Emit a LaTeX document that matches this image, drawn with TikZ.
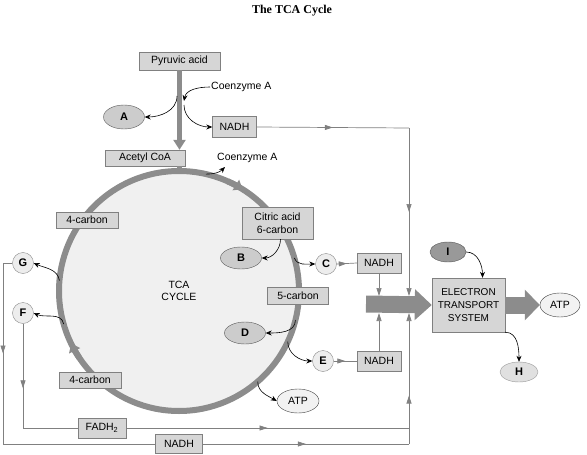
\documentclass[tikz,border=0pt]{standalone}
\usepackage{fontspec}
\setmainfont{Liberation Sans}
\newfontfamily\titlefont{Liberation Serif}
\usetikzlibrary{arrows.meta,decorations.markings,shapes.geometric}

\begin{document}
\begin{tikzpicture}[
  x=1pt, y=-1pt,
  font=\fontsize{10.5}{12.5}\selectfont,
  box/.style={rectangle, draw=black!50, fill=black!16, inner sep=1pt, align=center},
  oval/.style={ellipse, draw=black!65, fill=black!20, inner sep=0pt, font=\fontsize{11}{12}\selectfont\bfseries},
  atpoval/.style={ellipse, draw=black!75, fill=black!5, inner sep=0pt},
  dot/.style={circle, draw=black!45, fill=black!7, inner sep=0pt, minimum size=21pt, font=\fontsize{11}{12}\selectfont\bfseries},
  ring/.style={circle, draw=black!45, line width=6pt, fill=black!6, minimum size=240pt, outer sep=0pt, align=center},
  fat/.style={draw=black!45, line width=5pt},
  ringtip/.style={draw=black!45, line width=6pt, -{Triangle[length=8pt,width=12pt]}},
  flow/.style={draw=black!50, line width=0.7pt},
  flowtip/.style={flow, -{Triangle[length=8pt,width=5pt]}},
  midarr/.style={postaction=decorate, decoration={markings, mark=at position #1 with {\arrow{Triangle[length=8pt,width=5pt]}}}},
  midarr/.default=0.5,
  bent/.style={draw=black, line width=0.6pt, -{Stealth[length=6pt,width=5pt]}},
  bigarrow/.style={draw=black!45, line width=17pt, -{Triangle[length=17pt,width=30pt]}}
]
  \useasboundingbox (0,0) rectangle (587,455);

  % Title
  \node[font={\fontsize{12}{14}\titlefont\bfseries}] (title) at (292,11) {The TCA Cycle};

  % Cycle
  \node[ring] (tca) at (179,291) {TCA\\CYCLE};
  \draw[ringtip] (tca.center) ++(66:120pt) arc[start angle=66, end angle=58, radius=120pt];
  \draw[ringtip] (tca.center) ++(214:120pt) arc[start angle=214, end angle=206, radius=120pt];

  % Boxes
  \node[box, minimum width=81pt, minimum height=18pt] (pyruvic) at (179.5,61) {Pyruvic acid};
  \node[box, minimum width=80pt, minimum height=16pt] (acetyl) at (145,158) {Acetyl CoA};
  \node[box, minimum width=44pt, minimum height=21pt] (nadhA) at (234.5,127) {NADH};
  \node[box, minimum width=62pt, minimum height=16pt] (fourtop) at (87,220) {4-carbon};
  \node[box, minimum width=62pt, minimum height=16pt] (fourbot) at (90,380) {4-carbon};
  \node[box, minimum width=71pt, minimum height=32pt] (citric) at (277.5,223) {Citric acid\\6-carbon};
  \node[box, minimum width=61pt, minimum height=17pt] (five) at (298,296) {5-carbon};
  \node[box, minimum width=44pt, minimum height=20pt] (nadhC) at (379,263) {NADH};
  \node[box, minimum width=44pt, minimum height=20pt] (nadhE) at (379,361) {NADH};
  \node[box, minimum width=48pt, minimum height=20pt] (fadh) at (102,428) {FADH\textsubscript{2}};
  \node[box, minimum width=47pt, minimum height=19pt] (nadhB) at (179,444) {NADH};
  \node[box, minimum width=73pt, minimum height=54pt, font=\fontsize{10}{13}\selectfont] (ets) at (468.5,305) {ELECTRON\\TRANSPORT\\SYSTEM};

  % Plain labels
  \node[anchor=west, inner sep=1pt] (coenzA) at (210,87) {Coenzyme A};
  \node[anchor=west, inner sep=1pt] (coenzB) at (216,158) {Coenzyme A};

  % Letters and products
  \node[oval, minimum width=41pt, minimum height=24pt] (A) at (124,117) {A};
  \node[oval, minimum width=41pt, minimum height=22pt] (B) at (241,258) {B};
  \node[oval, minimum width=41pt, minimum height=22pt] (D) at (245,333) {D};
  \node[dot] (C) at (326,264) {C};
  \node[dot] (E) at (323,361) {E};
  \node[dot] (G) at (23,263) {G};
  \node[dot] (F) at (23,313) {F};
  \node[oval, fill=black!40, minimum width=36pt, minimum height=20pt] (I) at (448,252) {I};
  \node[oval, fill=black!12, draw=black!40, minimum width=38pt, minimum height=20pt] (H) at (519,372) {H};
  \node[atpoval, minimum width=42pt, minimum height=24pt] (atpA) at (298,401) {ATP};
  \node[atpoval, minimum width=40pt, minimum height=24pt] (atpB) at (560,305) {ATP};

  % Junction points
  \coordinate (jA) at (177,96);
  \coordinate (jCo) at (184,101);
  \coordinate (jN) at (184,105);
  \coordinate (cB) at (225,167);
  \coordinate (band) at (366,304);
  \coordinate (k1) at (409,128);
  \coordinate (k2) at (409,296);
  \coordinate (k3) at (409,313);
  \coordinate (kF) at (23,428);
  \coordinate (kF2) at (409,428);
  \coordinate (kG1) at (3,263);
  \coordinate (kG2) at (3,444);
  \coordinate (kG3) at (409,444);

  % Thick gray connectors
  \draw[fat, -{Triangle[length=10pt,width=12pt]}] (pyruvic.south) -- (acetyl.north -| pyruvic.south);
  \draw[fat] (acetyl.south -| tca.north) -- (tca.north);
  \draw[bigarrow] (band) -- (ets.west);
  \draw[bigarrow, -{Triangle[length=15pt,width=30pt]}] (ets.east) -- (atpB.west);

  % Curved black arrows
  \draw[bent] (coenzA.west) to[out=180, in=80] (jCo);
  \draw[bent] (jA) to[out=-90, in=0] (A.east);
  \draw[bent] (jN) to[out=-90, in=180] (nadhA.west);
  \draw[bent] (tca.77) to[out=0, in=225] (cB);
  \draw[bent] ([xshift=3pt]citric.south) to[out=-90, in=0] (B.east);
  \draw[bent] (tca.16) to[out=-70, in=180] (C.west);
  \draw[bent] (tca.-14) to[out=-90, in=0] (D.east);
  \draw[bent] (tca.-25) to[out=-90, in=180] (E.west);
  \draw[bent] (tca.-49) to[out=-90, in=150] (atpA.west);
  \draw[bent] (tca.175) to[out=100, in=-25] (G.east);
  \draw[bent] (tca.196) to[out=100, in=-25] (F.east);
  \draw[bent] (I.east) to[out=0, in=90] ([xshift=14pt]ets.north);
  \draw[bent] (ets.south east) to[out=0, in=90] (H.north);

  % Thin gray flows
  \draw[flow, midarr] (nadhA.east) -- (k1);
  \draw[flowtip, midarr] (k1) -- (k2);
  \draw[flow, midarr] (C.east) -- (nadhC.west);
  \draw[flowtip] (nadhC.south) -- (nadhC.south |- k2);
  \draw[flow, midarr] (E.east) -- (nadhE.west);
  \draw[flowtip] (nadhE.north) -- (nadhE.north |- k3);
  \draw[flow, midarr=0.62] (F.south) -- (kF);
  \draw[flow] (kF) -- (fadh.west);
  \draw[flow, midarr] (fadh.east) -- (kF2);
  \draw[flow] (G.west) -- (kG1);
  \draw[flow, midarr] (kG1) -- (kG2);
  \draw[flow] (kG2) -- (nadhB.west);
  \draw[flow, midarr] (nadhB.east) -- (kG3);
  \draw[flowtip, midarr=0.37] (kG3) -- (k3);
\end{tikzpicture}
\end{document}
